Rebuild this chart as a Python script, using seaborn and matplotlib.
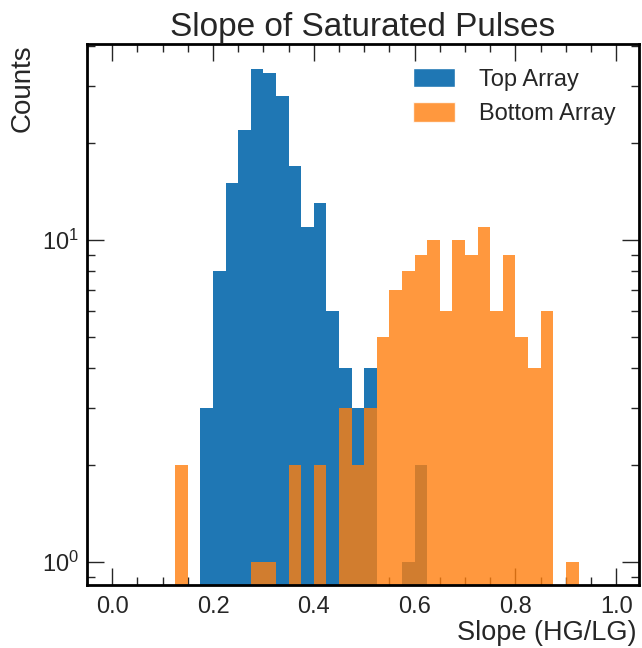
import numpy as np
import pandas as pd
import matplotlib
matplotlib.use("Agg")
import matplotlib.pyplot as plt
from matplotlib.patches import Patch
from matplotlib.ticker import AutoMinorLocator, LogLocator, NullFormatter
import seaborn as sns

# ---- data ----
bin_width = 0.025
bin_edges = [round(v, 3) for v in np.arange(0.125, 0.9251, bin_width)]
bin_centers = [round(v + bin_width / 2, 4) for v in bin_edges[:-1]]

top_counts = [0, 0, 3, 8, 15, 22, 34, 33, 28, 17, 11, 13, 6, 4, 3, 4,
              0, 0, 1, 2, 0, 0, 0, 0, 0, 0, 0, 0, 0, 0, 0, 0]
bottom_counts = [2, 0, 0, 0, 0, 0, 1, 1, 0, 2, 0, 2, 0, 3, 2, 3,
                 5, 7, 8, 9, 10, 6, 10, 9, 11, 6, 9, 5, 4, 6, 0, 1]
series_labels = ["Top Array", "Bottom Array"]
x_ticks = [0.0, 0.2, 0.4, 0.6, 0.8, 1.0]

title = "Slope of Saturated Pulses"
xlabel = "Slope (HG/LG)"
ylabel = "Counts"

df_top = pd.DataFrame({"x": bin_centers, "w": top_counts})
df_bot = pd.DataFrame({"x": bin_centers, "w": bottom_counts})

sns.set_style("ticks")
plt.rcParams["font.family"] = ["Liberation Sans", "DejaVu Sans"]

blue = "#1f77b4"
orange = "#ff7f0e"

fig = plt.figure(figsize=(6.42, 6.48), dpi=100)
ax = fig.add_axes([87 / 642, 63 / 648, 552 / 642, 541 / 648])

sns.histplot(data=df_top, x="x", weights="w", bins=bin_edges, color=blue,
             alpha=1.0, linewidth=0, ax=ax)
sns.histplot(data=df_bot, x="x", weights="w", bins=bin_edges, color=orange,
             alpha=0.8, linewidth=0, ax=ax)

ax.set_yscale("log")
ax.set_ylim(0.848, 40.6)
ax.set_xlim(-0.05, 1.045)
ax.set_xticks(x_ticks)
ax.set_xticklabels([f"{t:.1f}" for t in x_ticks])
ax.xaxis.set_minor_locator(AutoMinorLocator(4))
ax.yaxis.set_major_locator(LogLocator(base=10, numticks=10))
ax.yaxis.set_minor_locator(LogLocator(base=10, subs=np.arange(2, 10), numticks=20))
ax.yaxis.set_minor_formatter(NullFormatter())

ax.tick_params(which="both", direction="in", top=True, right=True, labelsize=17, width=1.0)
ax.tick_params(which="major", length=12)
ax.tick_params(which="minor", length=6)
ax.tick_params(axis="x", which="major", pad=8)
ax.tick_params(axis="y", which="major", pad=6)
for s in ax.spines.values():
    s.set_linewidth(2.0)
    s.set_color("black")

ax.set_title(title, fontsize=24, pad=6)
ax.set_xlabel(xlabel, fontsize=19.5, ha="right", x=0.995, labelpad=1)
ax.set_ylabel(ylabel, fontsize=20, ha="right", y=1.0)

handles = [Patch(facecolor=blue, alpha=1.0), Patch(facecolor=orange, alpha=0.8)]
ax.legend(handles, series_labels, loc="upper right", frameon=False, fontsize=17,
          handlelength=1.8, handleheight=0.9, handletextpad=1.0, labelspacing=0.5,
          borderaxespad=0.6)

fig.savefig("out.png", dpi=100)
